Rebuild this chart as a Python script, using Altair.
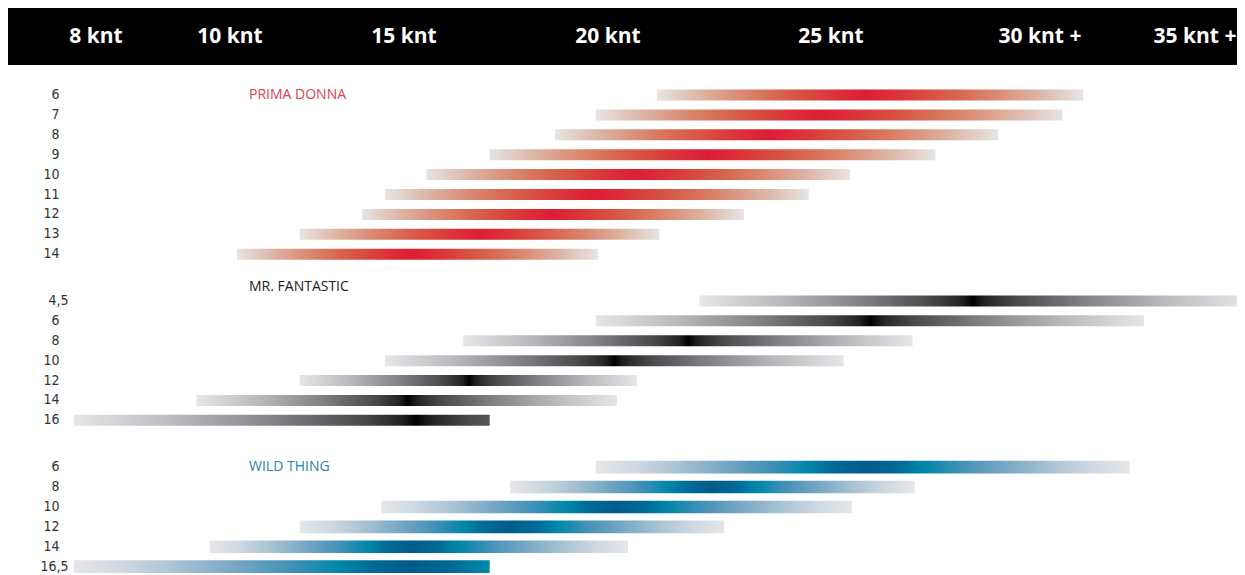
import altair as alt
import pandas as pd
import numpy as np

# ---------------- data (wind ranges in knots) ----------------
HEADER_KNOTS = [8, 10, 15, 20, 25, 30, 35]
HEADER_LABELS = ["8 knt", "10 knt", "15 knt", "20 knt", "25 knt", "30 knt +", "35 knt +"]

PD_SIZES = ["6", "7", "8", "9", "10", "11", "12", "13", "14"]
PD_START = [21.1, 19.7, 18.7, 17.1, 15.55, 14.45, 13.8, 12.0, 10.2]
PD_PEAK = [25.8, 24.75, 23.6, 22.25, 20.65, 19.7, 18.6, 16.85, 15.2]
PD_END = [31.35, 30.7, 29.0, 27.5, 25.45, 24.5, 23.05, 21.15, 19.75]

MF_SIZES = ["4,5", "6", "8", "10", "12", "14", "16"]
MF_START = [22.05, 19.7, 16.45, 14.45, 12.0, 9.5, 7.67]
MF_PEAK = [28.4, 25.95, 21.8, 20.15, 16.6, 15.1, 15.3]
MF_END = [36.4, 33.25, 26.95, 25.3, 20.65, 20.2, 17.1]

WT_SIZES = ["6", "8", "10", "12", "14", "16,5"]
WT_START = [19.7, 17.6, 14.35, 12.0, 9.7, 7.67]
WT_PEAK = [25.85, 22.35, 20.2, 17.6, 15.2, 15.2]
WT_END = [32.8, 27.0, 25.5, 22.6, 20.45, 17.1]

GROUPS = [
    ("PRIMA DONNA", PD_SIZES, PD_START, PD_PEAK, PD_END),
    ("MR. FANTASTIC", MF_SIZES, MF_START, MF_PEAK, MF_END),
    ("WILD THING", WT_SIZES, WT_START, WT_PEAK, WT_END),
]

# ---------------- styling ----------------
W, H = 1229, 567
X_RANGE = [88, 222, 396, 600, 823, 1032, 1192]   # printed (non-linear) knot scale
ROW_PX = 19.9
Y_TOP = 87
GROUP_GAP = 2.35

PALETTES = {
    "PRIMA DONNA": [(0, "#dc1e34"), (0.1, "#dd2a38"), (0.25, "#d8473e"), (0.42, "#d8664f"),
                    (0.6, "#da8a72"), (0.8, "#ddb6a8"), (1, "#e6e4e3")],
    "MR. FANTASTIC": [(0, "#000000"), (0.04, "#222224"), (0.15, "#48484b"), (0.4, "#7f7f84"),
                      (0.7, "#b9b9bd"), (1, "#e5e6e8")],
    "WILD THING": [(0, "#005c8a"), (0.12, "#006a98"), (0.22, "#0087aa"), (0.35, "#3f90b6"),
                   (0.5, "#70a3c2"), (0.7, "#a9c3d4"), (0.87, "#d2dae1"), (1, "#e5e6e8")],
}
TITLE_COLORS = {"PRIMA DONNA": "#e0404f", "MR. FANTASTIC": "#222222", "WILD THING": "#2b82ad"}
TITLE_SHIFT = {"PRIMA DONNA": 0.0, "MR. FANTASTIC": -0.72, "WILD THING": 0.0}
BAR_HALF = {"PRIMA DONNA": 5.5, "MR. FANTASTIC": 5.5, "WILD THING": 6.3}
LABEL_FONT = "Liberation Sans Narrow, Arial Narrow, DejaVu Sans Condensed, DejaVu Sans, sans-serif"

xscale = alt.Scale(domain=HEADER_KNOTS, range=X_RANGE)
yscale = alt.Scale(domain=[0, 24], range=[Y_TOP, Y_TOP + ROW_PX * 24])


def to_px(k):
    d = HEADER_KNOTS
    r = X_RANGE
    i = int(np.clip(np.searchsorted(d, k, side="right") - 1, 0, len(d) - 2))
    return r[i] + (k - d[i]) * (r[i + 1] - r[i]) / (d[i + 1] - d[i])


def hex2rgb(h):
    h = h.lstrip("#")
    return np.array([int(h[i:i + 2], 16) for i in (0, 2, 4)], dtype=float)


def pal_color(pal, d):
    ds = [p[0] for p in pal]
    cols = np.array([hex2rgb(p[1]) for p in pal])
    rgb = [np.interp(d, ds, cols[:, j]) for j in range(3)]
    return "#%02x%02x%02x" % tuple(int(round(v)) for v in rgb)


def make_gradient(pal, s, p, e):
    ps, pp, pe = to_px(s), to_px(p), to_px(e)
    L, R = pp - ps, pe - pp
    fl = L if L >= 0.5 * R else R
    fr = R if R >= 0.5 * L else L
    ts = sorted(set(list(np.round(np.linspace(0, 1, 61), 4)) + [round((pp - ps) / (pe - ps), 4)]))
    stops = []
    for t in ts:
        x = ps + t * (pe - ps)
        d = (pp - x) / fl if x < pp else (x - pp) / fr
        d = float(np.clip(d, 0, 1))
        stops.append(alt.GradientStop(color=pal_color(pal, d), offset=float(t)))
    return alt.Gradient(gradient="linear", stops=stops, x1=0, x2=1, y1=0, y2=0)


layers = []

# header band
layers.append(
    alt.Chart(pd.DataFrame({"a": [0]})).mark_rect(color="#000000").encode(
        x=alt.value(0), x2=alt.value(W), y=alt.value(0), y2=alt.value(57)
    )
)
hdr = pd.DataFrame({"k": HEADER_KNOTS, "label": HEADER_LABELS})
n_hdr = len(hdr)
for part, dx in ((hdr.iloc[: n_hdr - 1], 0), (hdr.iloc[n_hdr - 1:], -5)):
    layers.append(
        alt.Chart(part).mark_text(
            font="Open Sans", fontWeight="bold", fontSize=21, color="#ffffff",
            align="center", baseline="alphabetic", dx=dx
        ).encode(
            x=alt.X("k:Q", scale=xscale, axis=None),
            y=alt.value(34.5),
            text="label:N",
        )
    )

slot0 = 0.0
label_rows = []
title_rows = []
for name, sizes, starts, peaks, ends in GROUPS:
    pal = PALETTES[name]
    h = BAR_HALF[name] / ROW_PX
    for i, (sz, s, p, e) in enumerate(zip(sizes, starts, peaks, ends)):
        slot = slot0 + i
        df = pd.DataFrame({"start": [s], "end": [e], "y1": [slot - h], "y2": [slot + h]})
        layers.append(
            alt.Chart(df).mark_rect(color=make_gradient(pal, s, p, e), strokeWidth=0).encode(
                x=alt.X("start:Q", scale=xscale, axis=None),
                x2="end:Q",
                y=alt.Y("y1:Q", scale=yscale, axis=None),
                y2="y2:Q",
            )
        )
        label_rows.append({"slot": slot, "label": sz, "comma": "," in sz})
    title_rows.append({"slot": slot0 + TITLE_SHIFT[name], "title": name, "color": TITLE_COLORS[name]})
    slot0 = slot0 + len(sizes) - 1 + GROUP_GAP

lab = pd.DataFrame(label_rows)
for comma, xpos in ((False, 51.5), (True, 60.5)):
    layers.append(
        alt.Chart(lab[lab["comma"] == comma]).mark_text(
            font=LABEL_FONT, fontSize=14, color="#333333", align="right", baseline="middle"
        ).encode(
            x=alt.value(xpos),
            y=alt.Y("slot:Q", scale=yscale, axis=None),
            text="label:N",
        )
    )

for t in title_rows:
    layers.append(
        alt.Chart(pd.DataFrame([t])).mark_text(
            font="Open Sans", fontSize=14, color=t["color"], align="left", baseline="middle"
        ).encode(
            x=alt.value(241),
            y=alt.Y("slot:Q", scale=yscale, axis=None),
            text="title:N",
        )
    )

chart = alt.layer(*layers).properties(
    width=W, height=H, autosize=alt.AutoSizeParams(type="none"), padding=0
).configure_view(stroke=None)

chart.save("out.html", embed_options={"renderer": "svg", "actions": False})
